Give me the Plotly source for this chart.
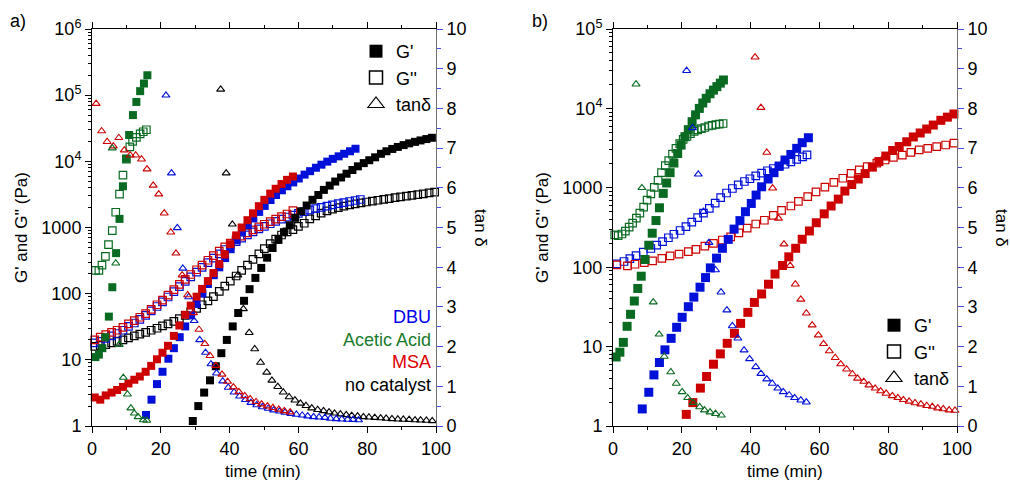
import plotly.graph_objects as go

# ---------------- Panel a data ----------------
# DBU (blue)
a_dbu_g1_t = [15.7,17.3,18.9,20.5,22.2,23.8,25.5,27.1,28.8,30.4,32.1,33.7,35.4,37.0,38.7,40.3,42.0,43.6,45.3,46.9,48.6,50.2,51.9,53.5,55.2,56.8,58.5,60.1,61.8,63.4,65.1,66.7,68.4,70.0,71.7,73.3,75.0,76.6]
a_dbu_g1 = [1.47,2.5,4.3,6.6,10.4,15,22,32,47,70,100,140,190,250,345,470,640,840,1080,1370,1720,2120,2600,3100,3650,4200,4800,5500,6300,7100,8000,8900,9900,10900,11900,13000,14200,15500]
a_dbu_g2_t = [0.8,2.4,4.0,5.7,7.3,9.0,10.6,12.3,13.9,15.6,17.2,18.9,20.5,22.1,23.8,25.4,27.1,28.7,30.4,32.0,33.7,35.3,37.0,38.6,40.2,41.9,43.5,45.2,46.8,48.5,50.1,51.8,53.4,55.1,56.7,58.4,60.0,61.7,63.3,65.0,66.6,68.3,69.9,71.6,73.2,74.9,76.5,78.0]
a_dbu_g2 = [18,19,21,23,25,28,32,36,41,47,55,64,75,89,107,128,153,180,212,250,295,345,400,465,535,610,690,775,860,950,1040,1140,1240,1340,1440,1540,1640,1740,1840,1930,2020,2110,2200,2290,2380,2470,2560,2650]
a_dbu_tan_t = [21.5,23.1,24.8,26.4,28.1,29.7,31.3,33.0,34.6,36.2,38.0,39.6,41.3,42.9,44.6,46.2,47.9,49.5,51.2,52.8,54.5,56.1,57.8,59.4,61.1,62.7,64.4,66.0,67.7,69.3,71.0,72.6,74.3,75.9,77.5]
a_dbu_tan = [8.33,6.37,4.99,3.97,3.25,2.65,2.17,1.85,1.56,1.33,1.13,0.97,0.85,0.75,0.66,0.59,0.53,0.48,0.44,0.40,0.37,0.34,0.31,0.29,0.27,0.25,0.23,0.22,0.21,0.19,0.18,0.17,0.165,0.16,0.15]

# Acetic acid (green)
a_aa_g1_t = [1.0,2.0,3.0,3.9,4.9,5.9,7.0,8.0,9.0,9.9,10.8,11.9,12.9,14.0,15.1,16.1]
a_aa_g1 = [11,12,15,22,45,125,410,1350,4200,11000,25000,50000,79000,115000,150000,200000]
a_aa_g2_t = [1.0,2.0,2.9,3.9,4.8,5.9,6.9,8.0,9.0,10.0,11.0,11.8,12.9,14.0,14.9,15.8]
a_aa_g2 = [225,225,270,365,550,900,1700,3200,6200,10800,16500,20000,23000,26000,28000,30000]
a_aa_tan_t = [5.9,6.9,7.9,9.1,10.3,11.3,12.3,13.4,14.9,15.9]
a_aa_tan = [7.0,4.1,2.05,1.22,0.80,0.45,0.32,0.23,0.15,0.14]

# MSA (red)
a_msa_g1_t = [0.8,2.4,4.0,5.7,7.3,9.0,10.6,12.3,13.9,15.6,17.2,18.9,20.5,22.1,23.8,25.4,27.1,28.7,30.4,32.0,33.7,35.3,37.0,38.6,40.2,41.9,43.5,45.2,46.8,48.5,50.1,51.8,53.4,55.1,56.7,58.4]
a_msa_g1 = [2.7,2.5,2.9,3.2,3.5,3.9,4.4,5.0,5.6,6.6,8.1,10.2,12.8,16.3,23,33,48,66,90,118,155,205,280,390,560,760,1000,1290,1640,2100,2620,3250,3850,4550,5250,5900]
a_msa_g2_t = [0.8,2.4,4.0,5.7,7.3,9.0,10.6,12.3,13.9,15.6,17.2,18.9,20.5,22.1,23.8,25.4,27.1,28.7,30.4,32.0,33.7,35.3,37.0,38.6,40.2,41.9,43.5,45.2,46.8,48.5,50.1,51.8,53.4,55.1,56.7,58.4]
a_msa_g2 = [20,22,24,26,28,31,35,39,44,50,58,68,80,95,115,138,165,195,230,270,320,375,440,510,580,660,740,830,920,1020,1120,1230,1340,1460,1600,1800]
a_msa_tan_t = [1.2,2.8,4.4,6.2,7.8,9.4,11.1,12.7,14.4,16.0,17.8,19.4,21.0,22.9,24.4,26.2,27.8,29.5,31.1,32.8,34.3,36.0,37.8,39.4,41.1,42.7,44.4,46.0,47.7,49.3,51.0,52.6,54.3,55.9,57.6]
a_msa_tan = [8.12,7.43,7.16,7.05,7.26,6.95,6.82,6.82,6.72,6.47,6.06,5.84,5.36,4.88,4.35,3.80,3.30,2.85,2.43,2.07,1.77,1.52,1.30,1.12,0.98,0.86,0.76,0.68,0.61,0.55,0.50,0.46,0.42,0.38,0.35]

# no catalyst (black)
a_nc_g1_t = [29.3,30.9,32.6,34.3,36.0,37.6,39.2,40.9,42.5,44.2,45.8,47.5,49.2,50.9,52.5,54.2,55.8,57.5,59.1,60.8,62.4,64.1,65.8,67.4,69.1,70.7,72.4,74.0,75.7,77.3,79.0,80.6,82.3,84.0,85.6,87.3,88.9,90.6,92.2,93.9,95.5,97.2,98.8]
a_nc_g1 = [1.19,2.0,3.2,4.9,8.0,12.6,20,32,51,78,117,173,245,350,490,650,850,1080,1400,1760,2150,2620,3100,3700,4300,4950,5700,6500,7400,8400,9400,10400,11500,13000,14200,15400,16500,17600,18700,19700,20700,21700,22700]
a_nc_g2_t = [0.8,2.4,4.0,5.7,7.3,9.0,10.6,12.3,13.9,15.6,17.2,18.9,20.5,22.1,23.8,25.4,27.1,28.7,30.4,32.0,33.7,35.3,37.0,38.6,40.2,41.9,43.5,45.2,46.8,48.5,50.1,51.8,53.4,55.1,56.7,58.4,60.0,61.7,63.3,65.0,66.6,68.3,69.9,71.6,73.2,74.9,76.5,78.2,79.8,81.5,83.1,84.8,86.4,88.1,89.7,91.4,93.0,94.7,96.3,98.0,99.6]
a_nc_g2 = [16,16.5,17,18,19,20,21.5,23,24.5,26,28,30,32.5,35,38,42,47,53,60,68,78,90,108,130,155,185,225,270,330,400,480,570,665,770,860,930,1040,1160,1350,1500,1650,1780,1890,2000,2100,2190,2280,2360,2430,2500,2580,2660,2740,2820,2900,2980,3060,3140,3230,3330,3430]
a_nc_tan_t = [37.4,39.0,40.8,42.4,44.0,45.7,47.3,49.0,50.8,52.3,54.0,55.6,57.3,59.0,60.6,62.2,63.9,65.6,67.3,68.9,70.5,72.2,73.9,75.5,77.2,78.9,80.5,82.2,83.9,85.5,87.2,88.9,90.5,92.2,93.9,95.5,97.2,98.9]
a_nc_tan = [8.48,6.37,5.08,3.8,2.95,2.35,1.94,1.6,1.35,1.15,0.99,0.85,0.73,0.65,0.57,0.51,0.45,0.41,0.38,0.35,0.32,0.30,0.28,0.26,0.25,0.23,0.22,0.21,0.20,0.19,0.18,0.17,0.165,0.16,0.15,0.145,0.14,0.13]

# ---------------- Panel b data ----------------
b_aa_g1_t = [0.9,2.0,3.0,4.1,5.1,6.2,7.2,8.2,9.3,10.4,11.4,12.5,13.5,14.6,15.6,16.6,17.7,18.8,19.8,20.9,21.9,23.0,24.0,25.1,26.1,27.1,28.2,29.2,30.2,31.2,32.1]
b_aa_g1 = [7.4,8.5,11.3,18,25.5,37.5,54,77,125,189,268,387,560,850,1150,1550,2050,2700,3450,4400,5400,6800,8300,10000,11700,13400,15300,17000,18800,20800,22800]
b_aa_g2_t = [0.5,1.5,2.6,3.6,4.7,5.7,6.8,7.8,8.9,9.9,11.0,12.0,13.1,14.1,15.2,16.2,17.3,18.3,19.4,20.4,21.5,22.5,23.6,24.6,25.7,26.7,27.8,28.8,29.9,30.9,32.0]
b_aa_g2 = [255,250,262,285,320,360,415,480,570,700,840,1010,1240,1550,1900,2200,2650,3140,3600,4080,4430,4800,5130,5350,5550,5750,6000,6130,6270,6330,6450]
b_aa_tan_t = [6.7,8.4,11.7,13.4,14.9,16.8,18.4,20.1,21.7,23.3,25.2,26.6,28.2,29.8,31.5]
b_aa_tan = [8.61,6.0,3.12,2.31,1.75,1.36,1.07,0.86,0.71,0.59,0.48,0.40,0.35,0.31,0.27]

b_dbu_g1_t = [8.5,10.4,11.9,13.5,15.1,16.9,18.5,20.1,21.9,23.5,25.3,26.9,28.3,30.1,31.8,33.5,35.2,36.9,38.5,40.2,41.6,43.2,45.1,46.8,48.3,50.0,51.7,53.4,55.0,56.8]
b_dbu_g1 = [1.64,2.66,4.4,6.3,9.1,12.7,17.5,23.4,31.8,42,56,74,98,130,173,224,302,386,500,635,810,1030,1290,1550,1880,2240,2630,3140,3700,4270]
b_dbu_g2_t = [1.1,3.2,4.9,6.7,8.8,11.0,12.7,14.4,16.1,17.7,19.5,21.2,22.9,24.6,26.3,28.0,29.7,31.3,33.0,34.7,36.4,38.2,39.8,41.5,43.2,44.9,46.6,48.3,50.0,51.7,53.4,55.1,56.4]
b_dbu_g2 = [110,118,128,140,155,172,190,210,235,260,290,325,370,420,480,550,640,750,860,980,1090,1200,1300,1410,1530,1640,1750,1860,1980,2120,2280,2450,2600]
b_dbu_tan_t = [21.4,23.1,24.8,26.3,27.9,29.8,31.4,33.1,34.7,36.3,38.1,39.7,41.5,43.0,44.7,46.3,47.9,49.5,51.2,52.8,54.6,56.2]
b_dbu_tan = [8.95,7.51,6.34,5.40,4.62,3.93,3.37,2.92,2.52,2.21,1.91,1.69,1.49,1.32,1.18,1.07,0.95,0.86,0.78,0.71,0.65,0.60]

b_msa_g1_t = [21.3,23.2,25.4,27.2,29.2,31.2,33.2,35.3,37.1,39.2,41.1,43.2,45.2,47.1,49.3,51.1,53.1,55.0,57.1,59.1,61.4,63.4,65.5,67.4,69.4,71.3,73.3,75.4,77.3,79.3,81.3,83.2,85.4,87.3,89.3,91.2,93.1,95.3,97.2,99.1]
b_msa_g1 = [1.4,1.97,3.0,4.2,6.0,8.1,11,14.7,19.6,27,36,46,61,82,105,135,173,225,286,363,470,590,720,910,1100,1290,1510,1820,2140,2510,2950,3310,3800,4370,4900,5500,6170,7080,7760,8500]
b_msa_g2_t = [1.1,4.2,6.4,9.1,11.5,14.2,16.6,19.2,21.9,24.1,26.7,29.2,31.8,34.2,36.6,39.0,41.5,44.0,46.6,49.0,51.7,53.9,56.6,59.0,61.6,64.2,66.8,69.2,71.6,73.9,76.7,79.1,81.5,84.1,86.6,89.0,91.5,94.1,96.7,99.1]
b_msa_g2 = [107,104,109,114,120,129,139,146,157,168,184,200,220,241,270,310,350,390,450,520,590,675,775,890,1020,1170,1320,1520,1680,1850,2040,2240,2420,2580,2800,3000,3140,3300,3460,3650]
b_msa_tan_t = [41.3,43.0,44.7,46.4,48.1,49.7,51.5,53.0,54.6,56.2,57.9,59.7,61.2,62.9,64.6,66.2,67.9,69.6,71.1,72.9,74.4,76.2,77.8,79.4,81.2,82.8,84.4,86.1,87.8,89.5,91.2,92.8,94.4,96.0,97.7,99.4]
b_msa_tan = [9.29,8.02,6.89,5.99,5.23,4.58,4.04,3.57,3.19,2.84,2.54,2.29,2.07,1.89,1.72,1.56,1.43,1.31,1.20,1.12,1.03,0.95,0.88,0.82,0.76,0.71,0.66,0.62,0.58,0.55,0.51,0.49,0.45,0.43,0.40,0.39]

# tick labels
log_ticks_a = [1, 10, 100, 1000, 1e4, 1e5, 1e6]
log_text_a = ["1", "10", "100", "1000", "10<sup>4</sup>", "10<sup>5</sup>", "10<sup>6</sup>"]
log_ticks_b = [1, 10, 100, 1000, 1e4, 1e5]
log_text_b = ["1", "10", "100", "1000", "10<sup>4</sup>", "10<sup>5</sup>"]
catalysts = ["DBU", "Acetic Acid", "MSA", "no catalyst"]

BLUE = "#0010D8"
GREEN = "#0A6A22"
RED = "#CC0000"
BLACK = "#000000"
FONT = "Liberation Sans, Arial, sans-serif"
W, H = 1010, 485

fig = go.Figure()


def add(x, y, color, kind, xa, ya, big=False):
    if kind == "g1":
        m = dict(symbol="square", size=9 if big else 8, color=color, line=dict(width=0))
    elif kind == "g2":
        m = dict(symbol="square-open", size=7.5, color=color, line=dict(width=1.2, color=color))
    else:
        m = dict(symbol="triangle-up-open", size=7, color=color, line=dict(width=1.1, color=color))
    fig.add_trace(go.Scatter(x=x, y=y, mode="markers", marker=m, xaxis=xa, yaxis=ya,
                             showlegend=False, cliponaxis=False, hoverinfo="skip"))


# panel a
for (tt, tv, c) in [(a_nc_tan_t, a_nc_tan, BLACK), (a_dbu_tan_t, a_dbu_tan, BLUE),
                    (a_msa_tan_t, a_msa_tan, RED), (a_aa_tan_t, a_aa_tan, GREEN)]:
    add(tt, tv, c, "tan", "x", "y2")
for (tt, tv, c) in [(a_nc_g2_t, a_nc_g2, BLACK), (a_dbu_g2_t, a_dbu_g2, BLUE),
                    (a_msa_g2_t, a_msa_g2, RED), (a_aa_g2_t, a_aa_g2, GREEN)]:
    add(tt, tv, c, "g2", "x", "y")
for (tt, tv, c) in [(a_nc_g1_t, a_nc_g1, BLACK), (a_dbu_g1_t, a_dbu_g1, BLUE),
                    (a_msa_g1_t, a_msa_g1, RED), (a_aa_g1_t, a_aa_g1, GREEN)]:
    add(tt, tv, c, "g1", "x", "y")

# panel b
for (tt, tv, c) in [(b_dbu_tan_t, b_dbu_tan, BLUE), (b_msa_tan_t, b_msa_tan, RED),
                    (b_aa_tan_t, b_aa_tan, GREEN)]:
    add(tt, tv, c, "tan", "x2", "y4")
for (tt, tv, c) in [(b_dbu_g2_t, b_dbu_g2, BLUE), (b_msa_g2_t, b_msa_g2, RED),
                    (b_aa_g2_t, b_aa_g2, GREEN)]:
    add(tt, tv, c, "g2", "x2", "y3")
for (tt, tv, c) in [(b_dbu_g1_t, b_dbu_g1, BLUE), (b_msa_g1_t, b_msa_g1, RED),
                    (b_aa_g1_t, b_aa_g1, GREEN)]:
    add(tt, tv, c, "g1", "x2", "y3", big=True)

# legend entries (symbol keys)
for lg, xa, ya in [("legend", "x", "y"), ("legend2", "x2", "y3")]:
    fig.add_trace(go.Scatter(x=[None], y=[None], mode="markers", name="G'", legend=lg,
                             marker=dict(symbol="square", size=13, color="black"), xaxis=xa, yaxis=ya))
    fig.add_trace(go.Scatter(x=[None], y=[None], mode="markers", name="G''", legend=lg,
                             marker=dict(symbol="square-open", size=13, color="black", line=dict(width=1.5)), xaxis=xa, yaxis=ya))
    fig.add_trace(go.Scatter(x=[None], y=[None], mode="markers", name="tanδ", legend=lg,
                             marker=dict(symbol="triangle-up-open", size=14, color="black", line=dict(width=1.2)), xaxis=xa, yaxis=ya))


def px_x(p):
    return p / W


def px_y(p):
    return 1 - p / H


ydom = [px_y(426), px_y(29)]
xdom_a = [px_x(92), px_x(436)]
xdom_b = [px_x(613), px_x(957)]

tickfont = dict(family=FONT, size=18, color="black")
xcommon = dict(range=[0, 100], dtick=20, tick0=0, ticks="outside", ticklen=6, tickwidth=1,
               tickcolor="black", showline=True, linecolor="black", linewidth=1, mirror="ticks",
               showgrid=False, zeroline=False, tickfont=tickfont, automargin=False,
               minor=dict(dtick=10, ticks="outside", ticklen=3, tickcolor="black", showgrid=False))


def minor_logs(n):
    return [k * 10 ** e for e in range(n) for k in range(2, 10)]


ycommon = dict(type="log", ticks="outside", ticklen=6, tickwidth=1, tickcolor="black",
               showline=True, linecolor="black", linewidth=1, showgrid=False, zeroline=False,
               tickfont=tickfont, automargin=False)
rcommon = dict(range=[0, 10], dtick=1, tick0=0, side="right", ticks="outside", ticklen=6,
               tickwidth=1, tickcolor="#4B4BE6", showline=True, linecolor="#6E6E6E", linewidth=1,
               showgrid=False, zeroline=False, tickfont=tickfont, automargin=False,
               minor=dict(dtick=0.5, ticks="outside", ticklen=4, tickcolor="#4B4BE6", showgrid=False))

fig.update_layout(
    width=W, height=H, margin=dict(l=0, r=0, t=0, b=0),
    paper_bgcolor="white", plot_bgcolor="white",
    font=dict(family=FONT, size=17, color="black"),
    xaxis=dict(domain=xdom_a, anchor="y", **xcommon),
    yaxis=dict(domain=ydom, anchor="x", range=[0, 6], tickvals=log_ticks_a, ticktext=log_text_a,
               minor=dict(tickvals=minor_logs(6), ticks="outside", ticklen=3, tickcolor="black", showgrid=False),
               **ycommon),
    yaxis2=dict(overlaying="y", anchor="x", **rcommon),
    xaxis2=dict(domain=xdom_b, anchor="y3", **xcommon),
    yaxis3=dict(domain=ydom, anchor="x2", range=[0, 5], tickvals=log_ticks_b, ticktext=log_text_b,
                minor=dict(tickvals=minor_logs(5), ticks="outside", ticklen=3, tickcolor="black", showgrid=False),
                **ycommon),
    yaxis4=dict(overlaying="y3", anchor="x2", **rcommon),
    legend=dict(x=px_x(356), y=px_y(33), xanchor="left", yanchor="top", bgcolor="rgba(0,0,0,0)",
                font=dict(family=FONT, size=18), itemwidth=30, tracegroupgap=0),
    legend2=dict(x=px_x(874), y=px_y(307), xanchor="left", yanchor="top", bgcolor="rgba(0,0,0,0)",
                 font=dict(family=FONT, size=18), itemwidth=30, tracegroupgap=0),
)

ann = []


def A(text, x, y, size=17, color="black", angle=0, xanchor="center"):
    ann.append(dict(text=text, x=px_x(x), y=px_y(y), xref="paper", yref="paper", showarrow=False,
                    font=dict(family=FONT, size=size, color=color), textangle=angle,
                    xanchor=xanchor, yanchor="middle"))


A("a)", 18, 21, size=18)
A("b)", 540, 21, size=18)
A("G' and G'' (Pa)", 21, 228, angle=-90)
A("G' and G'' (Pa)", 542, 228, angle=-90)
A("tan δ", 481, 228, angle=90)
A("tan δ", 1002, 228, angle=90)
A("time (min)", 263, 471)
A("time (min)", 785, 471)
cat_colors = ["#0000EE", "#1A7A2A", "#DD0000", "black"]
for i, (name, col) in enumerate(zip(catalysts, cat_colors)):
    A(name, 433, 317 + 22.5 * i, size=18, color=col, xanchor="right")
fig.update_layout(annotations=ann)

fig.write_html("out.html")
